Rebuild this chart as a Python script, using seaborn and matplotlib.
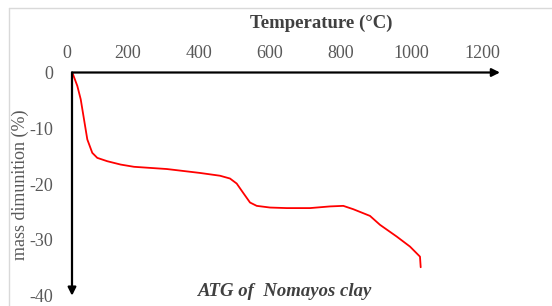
import numpy as np
import pandas as pd
import matplotlib
matplotlib.use("Agg")
import matplotlib.pyplot as plt
import matplotlib.transforms as mtransforms
from matplotlib.lines import Line2D
import seaborn as sns

temperature = [44.5, 58.6, 68.2, 77.5, 86.8, 100.8, 114.9, 143.1, 180.8, 218.3, 311, 404, 460.6, 488.7, 507.6,
               526.2, 545.1, 564, 601.4, 648.5, 714.1, 770.4, 807.9, 836, 883.1, 911.3, 958.3, 995.8, 1023.9, 1025.9]
mass_loss = [0.0, -2.4, -4.8, -8.4, -12.0, -14.4, -15.3, -15.9, -16.5, -16.9, -17.3, -18.0, -18.5, -19.0, -19.9,
             -21.6, -23.3, -23.9, -24.2, -24.3, -24.3, -24.0, -23.9, -24.5, -25.7, -27.3, -29.4, -31.2, -33.0, -34.9]
x_ticks = [0, 200, 400, 600, 800, 1000, 1200]
y_ticks = [0, -10, -20, -30, -40]

df = pd.DataFrame({"T": temperature, "m": mass_loss})

sns.set_style("white")
plt.rcParams["font.family"] = ["Liberation Serif", "DejaVu Serif"]
plt.rcParams["axes.unicode_minus"] = False

W, H = 552, 306
fig = plt.figure(figsize=(W / 100, H / 100), dpi=100)

# chart border (top and left visible)
fig.lines.append(Line2D([9 / W, 9 / W], [0, 1 - 8 / H], transform=fig.transFigure,
                        color="#d9d9d9", lw=1.0))
fig.lines.append(Line2D([9 / W, 1], [1 - 8 / H, 1 - 8 / H], transform=fig.transFigure,
                        color="#d9d9d9", lw=1.0))

x0, x1, y0, y1 = 56.5, 482.5, 72.5, 295.7
ax = fig.add_axes([x0 / W, 1 - y1 / H, (x1 - x0) / W, (y1 - y0) / H])
ax.set_xlim(0, 1200)
ax.set_ylim(-40, 0)

sns.lineplot(data=df, x="T", y="m", ax=ax, color="#ff0000", linewidth=1.3,
             sort=False, estimator=None)

for s in ax.spines.values():
    s.set_visible(False)

x_arrow = (72 - x0) / (x1 - x0)
ax.annotate("", xy=((500 - x0) / (x1 - x0), 1.0), xytext=(x_arrow, 1.0),
            xycoords="axes fraction", textcoords="axes fraction",
            arrowprops=dict(arrowstyle="-|>", color="black", lw=1.6,
                            mutation_scale=12, shrinkA=0, shrinkB=0),
            annotation_clip=False)
ax.annotate("", xy=(x_arrow, 0.0), xytext=(x_arrow, 1.0),
            xycoords="axes fraction", textcoords="axes fraction",
            arrowprops=dict(arrowstyle="-|>", color="black", lw=1.6,
                            mutation_scale=12, shrinkA=0, shrinkB=0),
            annotation_clip=False)

ax.xaxis.tick_top()
ax.set_xticks(x_ticks)
ax.set_xticklabels([str(v) for v in x_ticks])
ax.set_yticks(y_ticks)
ax.set_yticklabels([str(v) for v in y_ticks])
ax.tick_params(axis="both", length=0, labelsize=13, labelcolor="#595959")
ax.tick_params(axis="y", pad=2.5)
ax.tick_params(axis="x", pad=7.5)
off0 = mtransforms.ScaledTranslation(10 / 100, 0, fig.dpi_scale_trans)
first = ax.get_xticklabels()[0]
first.set_transform(first.get_transform() + off0)

ax.set_xlabel("")
ax.set_ylabel("")

fig.text(321 / W, 1 - 23.5 / H, "Temperature (°C)", ha="center", va="center",
         fontsize=13.5, fontweight="bold", color="#404040")
fig.text(20.5 / W, 1 - 185 / H, "mass dimunition (%)", ha="center", va="center",
         rotation=90, fontsize=13, color="#595959")
fig.text(285.5 / W, 1 - 292 / H, "ATG of  Nomayos clay", ha="center", va="center",
         fontsize=13.5, fontstyle="italic", fontweight="bold", color="#404040")

fig.savefig("out.png", dpi=100)
